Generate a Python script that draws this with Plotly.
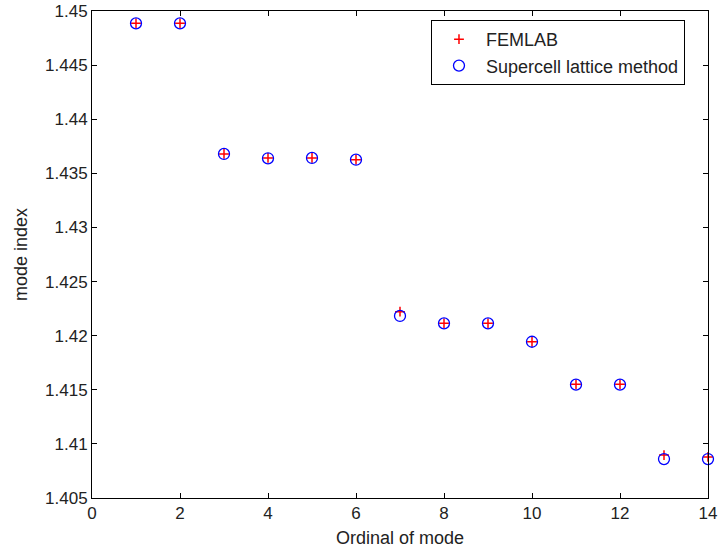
import plotly.graph_objects as go

modes = list(range(1, 15))
femlab = [1.44886, 1.44886, 1.43679, 1.43642, 1.43642, 1.43626, 1.42222,
          1.42114, 1.42114, 1.41944, 1.41550, 1.41550, 1.40897, 1.40880]
supercell = [1.44886, 1.44886, 1.43679, 1.43639, 1.43642, 1.43626, 1.42182,
             1.42114, 1.42114, 1.41944, 1.41547, 1.41547, 1.40860, 1.40860]

xticks = [0, 2, 4, 6, 8, 10, 12, 14]
xticklabels = ["0", "2", "4", "6", "8", "10", "12", "14"]
yticks = [1.405, 1.41, 1.415, 1.42, 1.425, 1.43, 1.435, 1.44, 1.445, 1.45]
yticklabels = ["1.405", "1.41", "1.415", "1.42", "1.425", "1.43", "1.435", "1.44", "1.445", "1.45"]

font = "Liberation Sans, Arial, sans-serif"
ink = "#222222"

fig = go.Figure()
fig.add_trace(go.Scatter(
    x=modes, y=femlab, mode="markers", name="FEMLAB",
    marker=dict(symbol="cross-thin", size=7, color="red",
                line=dict(color="red", width=1.5)),
    cliponaxis=False,
))
fig.add_trace(go.Scatter(
    x=modes, y=supercell, mode="markers", name="Supercell lattice method",
    marker=dict(symbol="circle-open", size=11, color="blue",
                line=dict(color="blue", width=1.3)),
    cliponaxis=False,
))

axis_common = dict(
    showgrid=False, zeroline=False, ticks="inside", ticklen=5,
    tickcolor="black", showline=True, linecolor="black", linewidth=1,
    mirror="ticks", automargin=False,
    tickfont=dict(family=font, size=17, color=ink),
)

fig.update_layout(
    width=718, height=554,
    margin=dict(l=92, r=10, t=11, b=56),
    paper_bgcolor="white", plot_bgcolor="white",
    font=dict(family=font, size=17, color=ink),
    showlegend=True,
    legend=dict(
        x=0.5503, y=0.9815, xanchor="left", yanchor="top",
        bordercolor="black", borderwidth=1, bgcolor="white",
        font=dict(family=font, size=18, color=ink),
        tracegroupgap=0, itemwidth=44,
    ),
    xaxis=dict(range=[0, 14], tickvals=xticks, ticktext=xticklabels,
               title=dict(text="Ordinal of mode", standoff=8,
                          font=dict(family=font, size=18, color=ink)),
               **axis_common),
    yaxis=dict(range=[1.405, 1.45], tickvals=yticks, ticktext=yticklabels,
               title=dict(text="mode index", standoff=12,
                          font=dict(family=font, size=18, color=ink)),
               **axis_common),
)

fig.write_html("out.html")
